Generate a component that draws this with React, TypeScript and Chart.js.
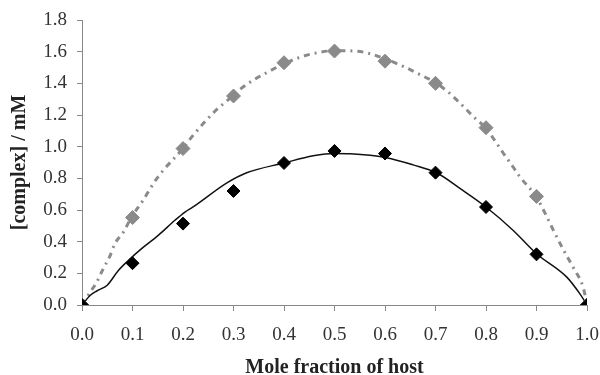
import React, { useEffect, useRef } from 'react';
import { Chart, registerables } from 'chart.js';

Chart.register(...registerables);

// Measured points
const moleFractions = [0, 0.1, 0.2, 0.3, 0.4, 0.5, 0.6, 0.7, 0.8, 0.9, 1.0];
const complexBlack = [0, 0.264, 0.514, 0.72, 0.897, 0.973, 0.957, 0.836, 0.619, 0.32, 0];
const complexGray = [0, 0.552, 0.988, 1.32, 1.53, 1.604, 1.54, 1.40, 1.12, 0.686, 0];

// Fitted curves
const fitBlackX = [0, 0.016, 0.03, 0.05, 0.072, 0.092, 0.118, 0.151, 0.184, 0.204, 0.22, 0.287, 0.326, 0.4, 0.458, 0.5, 0.531, 0.6, 0.656, 0.702, 0.749, 0.8, 0.854, 0.9, 0.96, 0.986, 1.0];
const fitBlackY = [0, 0.06, 0.09, 0.125, 0.218, 0.282, 0.356, 0.44, 0.535, 0.587, 0.619, 0.771, 0.835, 0.897, 0.942, 0.957, 0.955, 0.932, 0.885, 0.835, 0.735, 0.619, 0.471, 0.324, 0.176, 0.07, 0];

const fitGrayX = [0, 0.016, 0.029, 0.042, 0.055, 0.065, 0.082, 0.098, 0.121, 0.135, 0.148, 0.164, 0.2, 0.217, 0.247, 0.267, 0.298, 0.316, 0.339, 0.366, 0.399, 0.432, 0.458, 0.5, 0.541, 0.567, 0.6, 0.623, 0.643, 0.663, 0.702, 0.725, 0.742, 0.758, 0.775, 0.8, 0.815, 0.834, 0.854, 0.867, 0.899, 0.92, 0.933, 0.953, 0.973, 0.993, 1.0];
const fitGrayY = [0, 0.08, 0.144, 0.229, 0.307, 0.387, 0.46, 0.555, 0.661, 0.735, 0.798, 0.862, 0.988, 1.06, 1.17, 1.235, 1.319, 1.37, 1.42, 1.468, 1.522, 1.565, 1.588, 1.606, 1.604, 1.59, 1.555, 1.525, 1.497, 1.465, 1.40, 1.345, 1.295, 1.245, 1.19, 1.115, 1.05, 0.96, 0.87, 0.81, 0.686, 0.56, 0.475, 0.35, 0.235, 0.105, 0];

const xTitle = 'Mole fraction of host';
const yTitle = '[complex] / mM';

const pts = (xs: number[], ys: number[]) => xs.map((x, i) => ({ x, y: ys[i] }));

export default function App() {
  const ref = useRef<HTMLCanvasElement>(null);

  useEffect(() => {
    const tickFont = { family: 'Liberation Serif', size: 19 };
    const titleFont = { family: 'Liberation Serif', size: 20, weight: 'bold' as const, lineHeight: 1 };
    const chart = new Chart(ref.current!, {
      type: 'scatter',
      data: {
        datasets: [
          {
            label: 'black points',
            data: pts(moleFractions, complexBlack),
            showLine: false,
            pointStyle: 'rectRot',
            pointRadius: 6.5,
            backgroundColor: '#000',
            borderColor: '#000',
            borderWidth: 1,
            order: 0,
          },
          {
            label: 'gray points',
            data: pts(moleFractions, complexGray),
            showLine: false,
            pointStyle: 'rectRot',
            pointRadius: 7,
            backgroundColor: '#8a8a8a',
            borderColor: '#8a8a8a',
            borderWidth: 1,
            order: 1,
          },
          {
            label: 'black fit',
            data: pts(fitBlackX, fitBlackY),
            showLine: true,
            pointRadius: 0,
            borderColor: '#111',
            borderWidth: 1.5,
            cubicInterpolationMode: 'monotone',
            order: 2,
          },
          {
            label: 'gray fit',
            data: pts(fitGrayX, fitGrayY),
            showLine: true,
            pointRadius: 0,
            borderColor: '#8a8a8a',
            borderWidth: 3,
            borderDash: [6, 5, 2, 5],
            cubicInterpolationMode: 'monotone',
            order: 3,
          },
        ],
      },
      options: {
        animation: false,
        responsive: false,
        layout: { padding: { top: 20, right: 13, left: 0, bottom: 0 } },
        plugins: { legend: { display: false }, tooltip: { enabled: false } },
        scales: {
          x: {
            type: 'linear',
            min: 0,
            max: 1,
            afterFit: (s: any) => { s.height = 70; s.paddingLeft = 0; s.paddingRight = 0; },
            ticks: {
              stepSize: 0.1,
              callback: (v: any) => Number(v).toFixed(1),
              font: tickFont,
              color: '#333',
              padding: 13,
              maxRotation: 0,
              autoSkip: false,
            },
            grid: { drawOnChartArea: false, drawTicks: true, tickLength: 6, color: '#888' },
            border: { color: '#888', width: 1 },
            title: { display: true, text: xTitle, font: titleFont, color: '#222', padding: { top: 0, bottom: -3 } },
          },
          y: {
            type: 'linear',
            min: 0,
            max: 1.8,
            afterFit: (s: any) => { s.width = 82; s.paddingTop = 0; s.paddingBottom = 0; },
            ticks: {
              stepSize: 0.2,
              callback: (v: any) => Number(v).toFixed(1),
              font: tickFont,
              color: '#333',
              padding: 10,
            },
            grid: { drawOnChartArea: false, drawTicks: true, tickLength: 5, color: '#888' },
            border: { color: '#888', width: 1 },
            title: { display: true, text: yTitle, font: titleFont, color: '#222', padding: { top: 10, bottom: 0 } },
          },
        },
      },
    } as any);
    return () => chart.destroy();
  }, []);

  return (
    <div style={{ position: 'fixed', left: 0, top: 0, width: 600, height: 375, background: '#fff' }}>
      <canvas ref={ref} width={600} height={375} style={{ display: 'block' }} />
    </div>
  );
}
